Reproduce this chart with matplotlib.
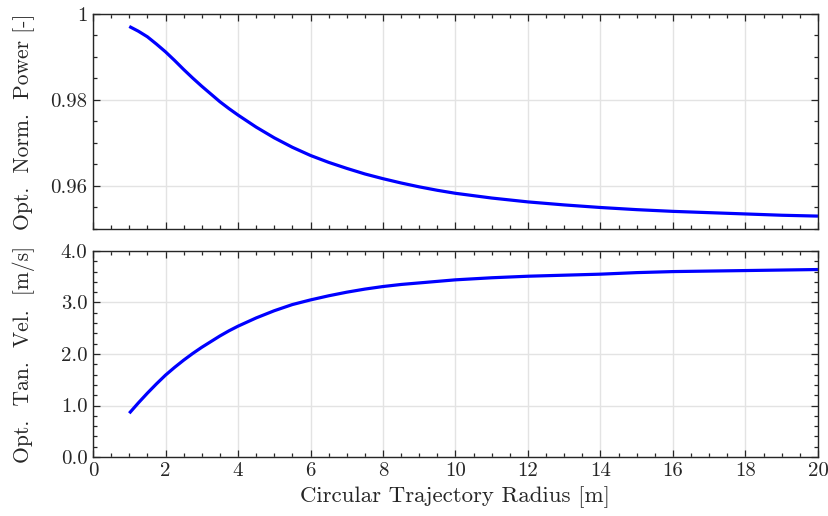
import matplotlib
matplotlib.use('Agg')
import matplotlib.pyplot as plt
from matplotlib.ticker import MultipleLocator, FixedLocator, FixedFormatter

plt.rcParams['font.family'] = 'serif'
plt.rcParams['font.serif'] = ['cmr10', 'DejaVu Serif']
plt.rcParams['mathtext.fontset'] = 'cm'
plt.rcParams['axes.formatter.use_mathtext'] = True

# data
radius = [1, 1.25, 1.5, 1.75, 2, 2.25, 2.5, 2.75, 3, 3.25, 3.5, 3.75, 4,
          4.5, 5, 5.5, 6, 6.5, 7, 7.5, 8, 8.5, 9, 9.5, 10, 11, 12, 13,
          14, 15, 16, 17, 18, 19, 20]
power = [0.9971, 0.9960, 0.9947, 0.9930, 0.9912, 0.9892, 0.9871, 0.9851,
         0.9832, 0.9814, 0.9796, 0.9780, 0.9765, 0.9737, 0.9712, 0.9690,
         0.9671, 0.9655, 0.9641, 0.9628, 0.9617, 0.9607, 0.9598, 0.9590,
         0.9583, 0.9572, 0.9563, 0.9556, 0.9550, 0.9545, 0.9541, 0.9538,
         0.9535, 0.9532, 0.9530]
velocity = [0.85, 1.05, 1.24, 1.42, 1.59, 1.74, 1.88, 2.01, 2.13, 2.24,
            2.35, 2.45, 2.54, 2.70, 2.84, 2.96, 3.05, 3.13, 3.20, 3.26,
            3.31, 3.35, 3.38, 3.41, 3.44, 3.48, 3.51, 3.53, 3.55, 3.58,
            3.60, 3.61, 3.62, 3.63, 3.64]

x_ticks = [0, 2, 4, 6, 8, 10, 12, 14, 16, 18, 20]
power_ticks = [0.96, 0.98, 1.0]
power_labels = ['0.96', '0.98', '1']
vel_ticks = [0, 1, 2, 3, 4]
vel_labels = ['0.0', '1.0', '2.0', '3.0', '4.0']

spine_col = '#262626'
grid_col = '#e3e3e3'

fig = plt.figure(figsize=(8.29, 5.16), dpi=100)
ax1 = fig.add_axes([0.1122, 0.5562, 0.8745, 0.4167])
ax2 = fig.add_axes([0.1122, 0.1143, 0.8745, 0.3993])

ax1.plot(radius, power, color='#0000ff', lw=2.3, solid_capstyle='butt')
ax2.plot(radius, velocity, color='#0000ff', lw=2.3, solid_capstyle='butt')

for ax in (ax1, ax2):
    ax.set_xlim(0, 20)
    ax.xaxis.set_major_locator(FixedLocator(x_ticks))
    ax.xaxis.set_minor_locator(MultipleLocator(0.5))
    ax.grid(True, which='major', color=grid_col, lw=1.0)
    ax.set_axisbelow(True)
    ax.tick_params(which='both', direction='in', top=True, right=True,
                   colors=spine_col, labelcolor='#262626', labelsize=15, width=0.9)
    ax.tick_params(which='major', length=5, pad=4)
    ax.tick_params(which='minor', length=3)
    for s in ax.spines.values():
        s.set_color(spine_col)
        s.set_linewidth(1.0)

ax1.set_ylim(0.95, 1.0)
ax1.yaxis.set_major_locator(FixedLocator(power_ticks))
ax1.yaxis.set_major_formatter(FixedFormatter(power_labels))
ax1.yaxis.set_minor_locator(MultipleLocator(0.005))
ax1.tick_params(axis='x', labelbottom=False)
ax1.set_ylabel('Opt.  Norm.  Power [-]', fontsize=15.5, color='#262626')

ax2.set_ylim(0, 4)
ax2.yaxis.set_major_locator(FixedLocator(vel_ticks))
ax2.yaxis.set_major_formatter(FixedFormatter(vel_labels))
ax2.yaxis.set_minor_locator(MultipleLocator(0.2))
ax2.xaxis.set_major_formatter(FixedFormatter([str(t) for t in x_ticks]))
ax2.set_ylabel('Opt.  Tan.  Vel.  [m/s]', fontsize=15.5, color='#262626')
ax2.set_xlabel('Circular Trajectory Radius [m]', fontsize=16.5, color='#262626')

ax1.yaxis.set_label_coords(-0.08, 0.5)
ax2.yaxis.set_label_coords(-0.08, 0.5)

fig.savefig('out.png', dpi=100)
